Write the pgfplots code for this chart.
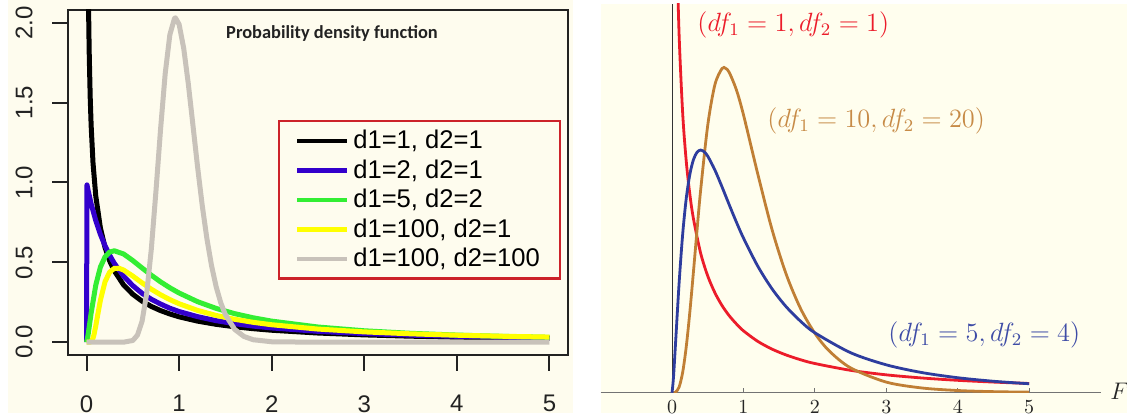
\documentclass[border=0pt]{standalone}
\usepackage[no-math]{fontspec}
\newfontfamily\lib{Liberation Sans}
\newfontfamily\carlito{Carlito}
\usepackage{pgfplots}
\pgfplotsset{compat=1.18}

\definecolor{creamL}{HTML}{FEFCEE}
\definecolor{creamR}{HTML}{FFFEEE}
\definecolor{axisdark}{HTML}{222222}
\definecolor{rblue}{HTML}{3300CC}
\definecolor{rgreen}{HTML}{33EE33}
\definecolor{ryellow}{HTML}{FFFF00}
\definecolor{rgray}{HTML}{C8C2BA}
\definecolor{legred}{HTML}{CC2229}
\definecolor{mred}{HTML}{EC1C2A}
\definecolor{mbrown}{HTML}{C07F35}
\definecolor{mblue}{HTML}{2E3D9E}
\definecolor{lbrown}{HTML}{C78B47}
\definecolor{lblue}{HTML}{3E4CA6}

\begin{document}
\begin{tikzpicture}
\path[use as bounding box] (0pt,0pt) rectangle (563.5pt,208.5pt);
\fill[creamL] (4pt,2pt) rectangle (286.5pt,208.5pt);
\fill[creamR] (300.5pt,2pt) rectangle (563.5pt,206.5pt);

% left panel: R style plot
\begin{axis}[
  at={(34pt,31pt)}, anchor=south west,
  scale only axis, width=250pt, height=172.5pt,
  xmin=-0.2, xmax=5.2, ymin=-0.08, ymax=2.08,
  axis line style={draw=axisdark, line width=1pt},
  xtick={0,1,2,3,4,5}, xticklabels={0,1,2,3,4,5},
  ytick={0,0.5,1,1.5,2}, yticklabels={0.0,0.5,1.0,1.5,2.0},
  xtick pos=bottom, ytick pos=left,
  tick align=outside, major tick length=8pt,
  every tick/.style={draw=axisdark, line width=1pt},
  tick label style={font=\lib\fontsize{12}{14}\selectfont, text=axisdark},
  xticklabel style={anchor=north, inner sep=0pt, yshift=-12pt},
  yticklabel style={rotate=90, anchor=south, inner sep=0pt, yshift=9.5pt},
  legend style={at={(0.986,0.681)}, anchor=north east,
    draw=legred, line width=1.2pt, fill=creamL,
    font=\lib\fontsize{12.8}{14}\selectfont,
    inner xsep=8pt, inner ysep=2.4pt, row sep=0pt,
    /tikz/every even column/.append style={column sep=10pt}},
  legend cell align=left,
  legend image code/.code={\draw[#1, line width=2.2pt] (0pt,0pt) -- (25pt,0pt);},
  every axis plot/.append style={line width=2.5pt, line join=round},
]
\addplot[black] coordinates {
(0.015,2.561)(0.02,2.207)(0.025,1.964)(0.03,1.784)(0.04,1.530)(0.05,1.356)(0.07,1.124)(0.1,0.915)(0.15,0.715)(0.2,0.593)(0.25,0.509)(0.3,0.447)(0.4,0.359)(0.5,0.300)(0.6,0.257)(0.7,0.224)(0.8,0.198)(0.9,0.177)(1,0.159)(1.2,0.132)(1.4,0.112)(1.6,0.0968)(1.8,0.0847)(2,0.0750)(2.5,0.0575)(3,0.0459)(3.5,0.0378)(4,0.0318)(4.5,0.0273)(5,0.0237)};
\addlegendentry{d1=1, d2=1}
\addplot[rblue] coordinates {
(0,0)(0.005,0.985)(0.02,0.943)(0.05,0.867)(0.1,0.761)(0.15,0.675)(0.2,0.604)(0.25,0.544)(0.3,0.494)(0.4,0.414)(0.5,0.354)(0.6,0.306)(0.7,0.269)(0.8,0.239)(0.9,0.213)(1,0.192)(1.2,0.160)(1.4,0.135)(1.6,0.116)(1.8,0.101)(2,0.0894)(2.5,0.0680)(3,0.0540)(3.5,0.0442)(4,0.0370)(4.5,0.0316)(5,0.0274)};
\addlegendentry{d1=2, d2=1}
\addplot[rgreen] coordinates {
(0,0)(0.01,0.0227)(0.02,0.0589)(0.05,0.1829)(0.1,0.3577)(0.15,0.4707)(0.2,0.5345)(0.25,0.5645)(0.3,0.5725)(0.4,0.5525)(0.5,0.5113)(0.6,0.4648)(0.7,0.4195)(0.8,0.3779)(0.9,0.3409)(1,0.3081)(1.2,0.2537)(1.4,0.2117)(1.6,0.1789)(1.8,0.1529)(2,0.1321)(2.5,0.0952)(3,0.0716)(3.5,0.0558)(4,0.0448)(4.5,0.0366)(5,0.0305)};
\addlegendentry{d1=5, d2=2}
\addplot[ryellow] coordinates {
(0,0)(0.03,0)(0.05,0.0036)(0.07,0.0253)(0.08,0.0459)(0.1,0.1022)(0.12,0.1681)(0.15,0.2632)(0.2,0.3788)(0.25,0.4392)(0.3,0.4624)(0.35,0.4633)(0.4,0.4521)(0.5,0.4140)(0.6,0.3716)(0.7,0.3319)(0.8,0.2970)(0.9,0.2668)(1,0.2408)(1.2,0.1991)(1.4,0.1677)(1.6,0.1435)(1.8,0.1246)(2,0.1094)(2.5,0.0823)(3,0.0647)(3.5,0.0526)(4,0.0438)(4.5,0.0373)(5,0.0322)};
\addlegendentry{d1=100, d2=1}
\addplot[rgray] coordinates {
(0,0)(0.3,0)(0.4,0.0002)(0.5,0.0110)(0.55,0.0443)(0.6,0.1316)(0.65,0.306)(0.7,0.584)(0.75,0.946)(0.8,1.336)(0.85,1.683)(0.9,1.925)(0.95,2.027)(0.96,2.031)(1,1.990)(1.05,1.839)(1.1,1.615)(1.15,1.355)(1.2,1.095)(1.25,0.855)(1.3,0.649)(1.35,0.480)(1.4,0.3475)(1.45,0.2467)(1.5,0.1723)(1.6,0.0806)(1.7,0.0361)(1.8,0.0156)(2,0.0028)(2.5,0)(5,0)};
\addlegendentry{d1=100, d2=100}
\end{axis}
\node[font=\carlito\bfseries\fontsize{9.2}{11}\selectfont, text=axisdark] at (166pt,192pt) {Probability density function};

% right panel: Mathematica style plot
\begin{axis}[
  at={(300.3pt,12.15pt)}, anchor=south west,
  scale only axis, width=250pt, height=194.5pt,
  xmin=-1, xmax=6, ymin=0, ymax=1,
  axis lines=middle,
  x axis line style={-, draw=black!55, line width=0.6pt},
  y axis line style={-, draw=black!80, line width=0.5pt},
  xtick={0,1,2,3,4,5}, ytick=\empty,
  hide obscured x ticks=false,
  tick align=inside, major tick length=2.5pt,
  every tick/.style={draw=black!55, line width=0.5pt},
  xticklabel style={anchor=north, inner sep=0pt, yshift=-4pt, font=\fontsize{10}{12}\selectfont, text=black!85},
  every axis plot/.append style={line width=1.4pt, smooth},
]
\addplot[mred] coordinates {
(0.03,1.784)(0.04,1.530)(0.05,1.356)(0.07,1.124)(0.1,0.915)(0.15,0.715)(0.2,0.593)(0.25,0.509)(0.3,0.447)(0.4,0.359)(0.5,0.300)(0.6,0.257)(0.7,0.224)(0.8,0.198)(0.9,0.177)(1,0.159)(1.2,0.132)(1.4,0.112)(1.6,0.0968)(1.8,0.0847)(2,0.0750)(2.5,0.0575)(3,0.0459)(3.5,0.0378)(4,0.0318)(4.5,0.0273)(5,0.0237)};
\addplot[mbrown] coordinates {
(0,0)(0.05,0.0014)(0.1,0.0151)(0.15,0.0535)(0.2,0.1198)(0.25,0.2088)(0.3,0.3114)(0.35,0.4179)(0.4,0.5198)(0.5,0.6878)(0.6,0.7918)(0.7,0.8334)(0.75,0.8337)(0.8,0.8237)(0.9,0.7791)(1,0.7145)(1.2,0.5625)(1.4,0.4194)(1.6,0.3036)(1.8,0.2161)(2,0.1527)(2.2,0.1075)(2.5,0.0638)(3,0.0272)(3.5,0.0121)(4,0.0056)(4.5,0.0027)(5,0.0014)};
\addplot[mblue] coordinates {
(0,0)(0.02,0.0387)(0.05,0.1301)(0.1,0.2845)(0.15,0.4098)(0.2,0.5009)(0.25,0.5619)(0.3,0.5992)(0.35,0.6181)(0.4,0.6237)(0.45,0.6192)(0.5,0.6080)(0.6,0.5724)(0.7,0.5290)(0.8,0.4834)(0.9,0.4390)(1,0.3976)(1.2,0.3254)(1.4,0.2670)(1.6,0.2205)(1.8,0.1836)(2,0.1540)(2.5,0.1028)(3,0.0716)(3.5,0.0517)(4,0.0385)(4.5,0.0294)(5,0.0230)};
\end{axis}
\begin{scope}[every node/.style={anchor=west, inner sep=0pt, font=\fontsize{12}{15}\selectfont, scale=1.1, transform shape}]
\node[text=mred] at (348.5pt,196.25pt) {$(df_1 = 1, df_2 = 1)$};
\node[text=lbrown] at (383.5pt,148.25pt) {$(df_1 = 10, df_2 = 20)$};
\node[text=lblue] at (444pt,41.25pt) {$(df_1 = 5, df_2 = 4)$};
\end{scope}
\node[anchor=west, inner sep=0pt, text=black!85, font=\fontsize{12}{14}\selectfont] at (555pt,13pt) {$F$};
\end{tikzpicture}
\end{document}
